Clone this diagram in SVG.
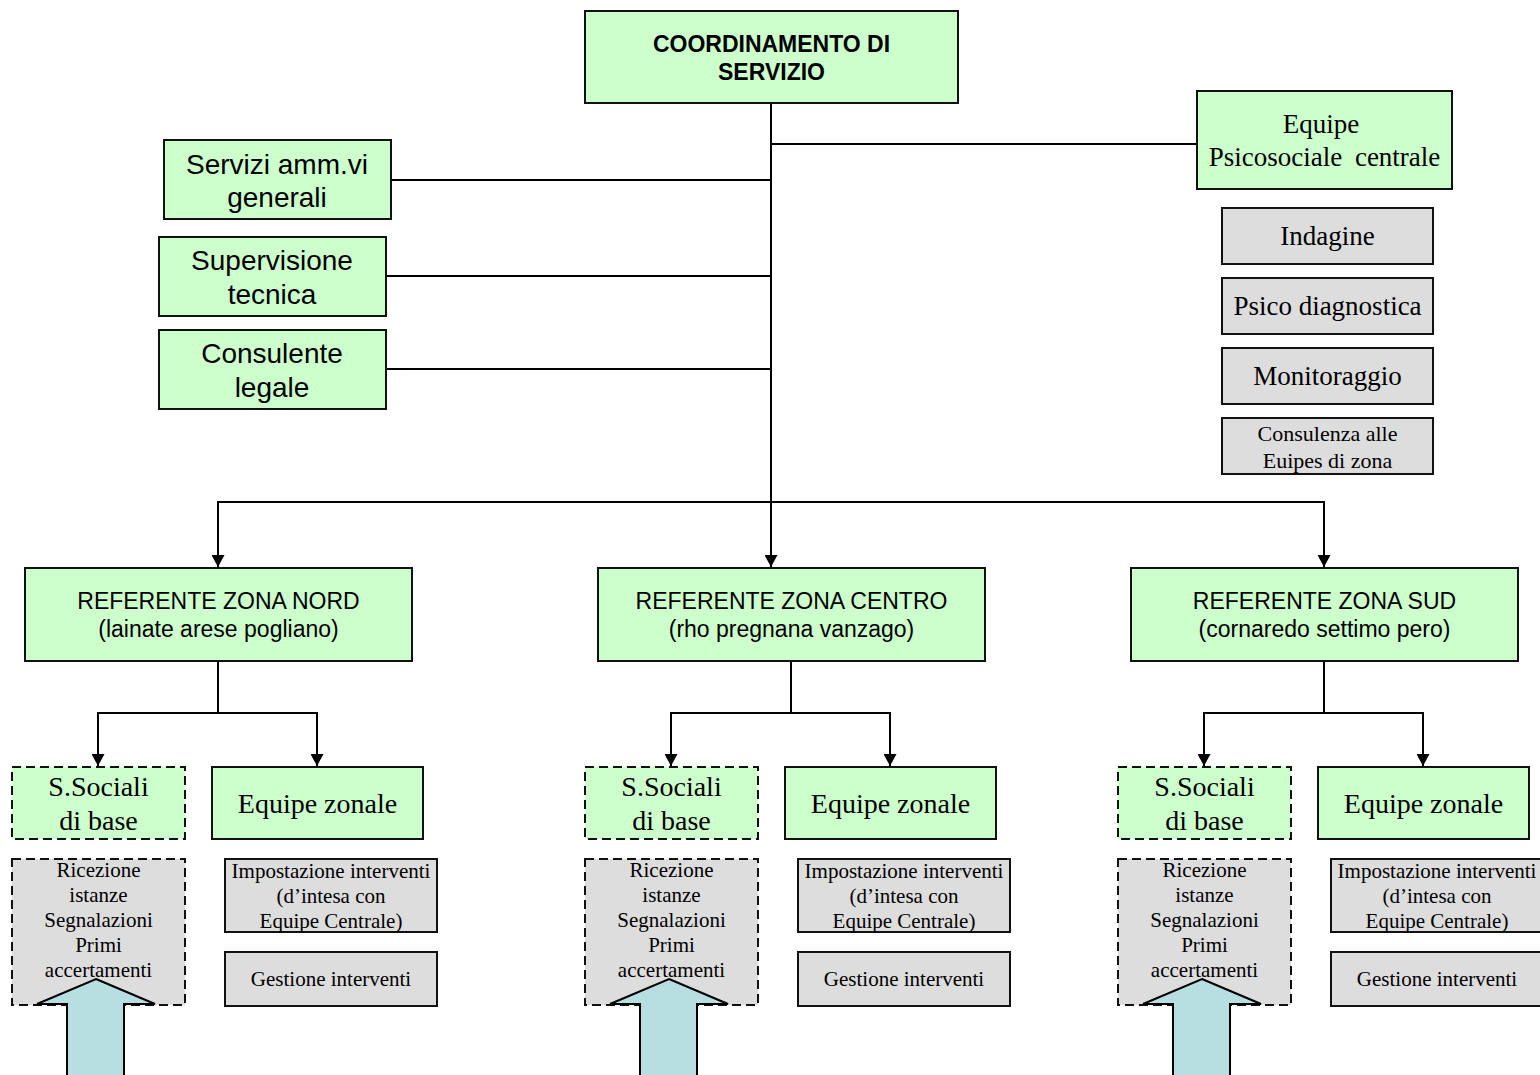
<svg xmlns="http://www.w3.org/2000/svg" width="1540" height="1075" viewBox="0 0 1540 1075">
<style>
.g{fill:#ccffcc;stroke:#111;stroke-width:2}
.gr{fill:#dddddd;stroke:#111;stroke-width:2}
.d{stroke-dasharray:9 5}
.s{font-family:"Liberation Sans",Arial,sans-serif;fill:#000;text-anchor:middle}
.t{font-family:"Liberation Serif","Times New Roman",serif;fill:#000;text-anchor:middle}
.c{fill:none;stroke:#000;stroke-width:2}
.ba{fill:#b7dfe2;stroke:#000;stroke-width:2;stroke-linejoin:miter}
</style>
<defs>
<marker id="ah" viewBox="0 0 12 13" refX="12" refY="6.5" markerWidth="12" markerHeight="13" markerUnits="userSpaceOnUse" orient="auto">
<path d="M0,0 L12,6.5 L0,13 Z" fill="#000"/>
</marker>
</defs>
<rect width="1540" height="1075" fill="#fff"/>

<g id="connectors">
<path class="c" d="M771,103 V567" marker-end="url(#ah)"/>
<path class="c" d="M771,144 H1197"/>
<path class="c" d="M391,180 H771"/>
<path class="c" d="M386,276 H771"/>
<path class="c" d="M386,369 H771"/>
<path class="c" d="M771,502 H218 V567" marker-end="url(#ah)"/>
<path class="c" d="M771,502 H1324 V567" marker-end="url(#ah)"/>
<path class="c" d="M218,661 V713"/>
<path class="c" d="M218,713 H98 V766" marker-end="url(#ah)"/>
<path class="c" d="M218,713 H317 V766" marker-end="url(#ah)"/>
<path class="c" d="M791,661 V713"/>
<path class="c" d="M791,713 H671 V766" marker-end="url(#ah)"/>
<path class="c" d="M791,713 H890 V766" marker-end="url(#ah)"/>
<path class="c" d="M1324,661 V713"/>
<path class="c" d="M1324,713 H1204 V766" marker-end="url(#ah)"/>
<path class="c" d="M1324,713 H1423 V766" marker-end="url(#ah)"/>
</g>

<g id="coordinamento">
<rect class="g" x="585" y="11" width="373" height="92"/>
<text class="s" x="771.5" y="52" font-size="23" font-weight="bold">COORDINAMENTO DI</text>
<text class="s" x="771.5" y="80" font-size="23" font-weight="bold">SERVIZIO</text>
</g>

<g id="servizi">
<rect class="g" x="164" y="140" width="227" height="79"/>
<text class="s" x="277" y="174" font-size="28">Servizi amm.vi</text>
<text class="s" x="277" y="207" font-size="28">generali</text>
</g>
<g id="supervisione">
<rect class="g" x="159" y="237" width="227" height="79"/>
<text class="s" x="272" y="270" font-size="28">Supervisione</text>
<text class="s" x="272" y="304" font-size="28">tecnica</text>
</g>
<g id="consulente">
<rect class="g" x="159" y="330" width="227" height="79"/>
<text class="s" x="272" y="363" font-size="28">Consulente</text>
<text class="s" x="272" y="397" font-size="28">legale</text>
</g>

<g id="equipe-centrale">
<rect class="g" x="1197" y="91" width="255" height="98"/>
<text class="t" x="1321" y="133" font-size="27">Equipe</text>
<text class="t" x="1324.5" y="166" font-size="27" word-spacing="6">Psicosociale centrale</text>
</g>
<g id="indagine">
<rect class="gr" x="1222" y="208" width="211" height="56"/>
<text class="t" x="1327.5" y="245" font-size="27">Indagine</text>
</g>
<g id="psico">
<rect class="gr" x="1222" y="278" width="211" height="56"/>
<text class="t" x="1327.5" y="315" font-size="27">Psico diagnostica</text>
</g>
<g id="monitoraggio">
<rect class="gr" x="1222" y="348" width="211" height="56"/>
<text class="t" x="1327.5" y="385" font-size="27">Monitoraggio</text>
</g>
<g id="consulenza">
<rect class="gr" x="1222" y="418" width="211" height="56"/>
<text class="t" x="1327.5" y="441" font-size="22">Consulenza alle</text>
<text class="t" x="1327.5" y="468" font-size="22">Euipes di zona</text>
</g>

<!-- NORD -->
<g id="ref-nord">
<rect class="g" x="25" y="568" width="387" height="93"/>
<text class="s" x="218.5" y="609" font-size="23">REFERENTE ZONA NORD</text>
<text class="s" x="218.5" y="637" font-size="23">(lainate arese pogliano)</text>
</g>
<g id="ss-nord">
<rect class="g d" x="12" y="767" width="173" height="72"/>
<text class="t" x="98.5" y="796" font-size="28">S.Sociali</text>
<text class="t" x="98.5" y="830" font-size="28">di base</text>
</g>
<g id="ez-nord">
<rect class="g" x="212" y="767" width="211" height="72"/>
<text class="t" x="317.5" y="813" font-size="28">Equipe zonale</text>
</g>
<g id="ric-nord">
<rect class="gr d" x="12" y="859" width="173" height="146"/>
<text class="t" x="98.5" y="877" font-size="21">Ricezione</text>
<text class="t" x="98.5" y="902" font-size="21">istanze</text>
<text class="t" x="98.5" y="927" font-size="21">Segnalazioni</text>
<text class="t" x="98.5" y="952" font-size="21">Primi</text>
<text class="t" x="98.5" y="977" font-size="21">accertamenti</text>
</g>
<g id="imp-nord">
<rect class="gr" x="225" y="859" width="212" height="73"/>
<text class="t" x="331" y="878" font-size="21">Impostazione interventi</text>
<text class="t" x="331" y="903" font-size="21">(d’intesa con</text>
<text class="t" x="331" y="928" font-size="21">Equipe Centrale)</text>
</g>
<g id="ges-nord">
<rect class="gr" x="225" y="952" width="212" height="54"/>
<text class="t" x="331" y="986" font-size="21">Gestione interventi</text>
</g>
<g id="freccia-nord">
<path class="ba" d="M96,979 L155,1004 L124,1004 L124,1085 L67,1085 L67,1004 L37,1004 Z"/>
</g>

<!-- CENTRO -->
<g id="ref-centro">
<rect class="g" x="598" y="568" width="387" height="93"/>
<text class="s" x="791.5" y="609" font-size="23">REFERENTE ZONA CENTRO</text>
<text class="s" x="791.5" y="637" font-size="23">(rho pregnana vanzago)</text>
</g>
<g id="ss-centro">
<rect class="g d" x="585" y="767" width="173" height="72"/>
<text class="t" x="671.5" y="796" font-size="28">S.Sociali</text>
<text class="t" x="671.5" y="830" font-size="28">di base</text>
</g>
<g id="ez-centro">
<rect class="g" x="785" y="767" width="211" height="72"/>
<text class="t" x="890.5" y="813" font-size="28">Equipe zonale</text>
</g>
<g id="ric-centro">
<rect class="gr d" x="585" y="859" width="173" height="146"/>
<text class="t" x="671.5" y="877" font-size="21">Ricezione</text>
<text class="t" x="671.5" y="902" font-size="21">istanze</text>
<text class="t" x="671.5" y="927" font-size="21">Segnalazioni</text>
<text class="t" x="671.5" y="952" font-size="21">Primi</text>
<text class="t" x="671.5" y="977" font-size="21">accertamenti</text>
</g>
<g id="imp-centro">
<rect class="gr" x="798" y="859" width="212" height="73"/>
<text class="t" x="904" y="878" font-size="21">Impostazione interventi</text>
<text class="t" x="904" y="903" font-size="21">(d’intesa con</text>
<text class="t" x="904" y="928" font-size="21">Equipe Centrale)</text>
</g>
<g id="ges-centro">
<rect class="gr" x="798" y="952" width="212" height="54"/>
<text class="t" x="904" y="986" font-size="21">Gestione interventi</text>
</g>
<g id="freccia-centro">
<path class="ba" d="M669,979 L728,1004 L697,1004 L697,1085 L640,1085 L640,1004 L610,1004 Z"/>
</g>

<!-- SUD -->
<g id="ref-sud">
<rect class="g" x="1131" y="568" width="387" height="93"/>
<text class="s" x="1324.5" y="609" font-size="23">REFERENTE ZONA SUD</text>
<text class="s" x="1324.5" y="637" font-size="23">(cornaredo settimo pero)</text>
</g>
<g id="ss-sud">
<rect class="g d" x="1118" y="767" width="173" height="72"/>
<text class="t" x="1204.5" y="796" font-size="28">S.Sociali</text>
<text class="t" x="1204.5" y="830" font-size="28">di base</text>
</g>
<g id="ez-sud">
<rect class="g" x="1318" y="767" width="211" height="72"/>
<text class="t" x="1423.5" y="813" font-size="28">Equipe zonale</text>
</g>
<g id="ric-sud">
<rect class="gr d" x="1118" y="859" width="173" height="146"/>
<text class="t" x="1204.5" y="877" font-size="21">Ricezione</text>
<text class="t" x="1204.5" y="902" font-size="21">istanze</text>
<text class="t" x="1204.5" y="927" font-size="21">Segnalazioni</text>
<text class="t" x="1204.5" y="952" font-size="21">Primi</text>
<text class="t" x="1204.5" y="977" font-size="21">accertamenti</text>
</g>
<g id="imp-sud">
<rect class="gr" x="1331" y="859" width="212" height="73"/>
<text class="t" x="1437" y="878" font-size="21">Impostazione interventi</text>
<text class="t" x="1437" y="903" font-size="21">(d’intesa con</text>
<text class="t" x="1437" y="928" font-size="21">Equipe Centrale)</text>
</g>
<g id="ges-sud">
<rect class="gr" x="1331" y="952" width="212" height="54"/>
<text class="t" x="1437" y="986" font-size="21">Gestione interventi</text>
</g>
<g id="freccia-sud">
<path class="ba" d="M1202,979 L1261,1004 L1230,1004 L1230,1085 L1173,1085 L1173,1004 L1143,1004 Z"/>
</g>
</svg>
